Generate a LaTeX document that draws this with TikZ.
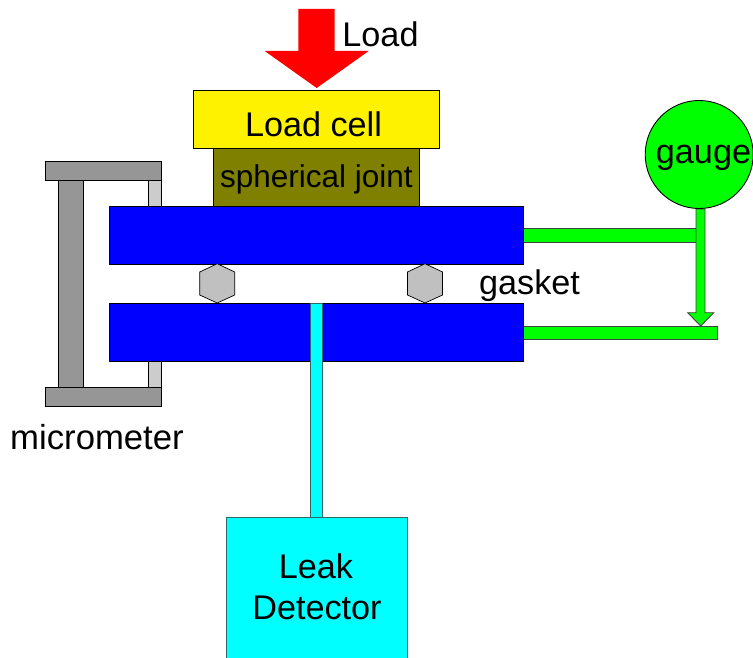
\documentclass[tikz,border=0pt]{standalone}
\usepackage{fontspec}
\setmainfont{Liberation Sans}
\definecolor{bargray}{HTML}{969696}
\definecolor{spindle}{HTML}{CCCCCC}
\definecolor{hexgray}{HTML}{C0C0C0}
\definecolor{olivejoint}{HTML}{808000}
\definecolor{edgegray}{HTML}{404040}
\definecolor{aqua}{HTML}{00FFFF}
\definecolor{edgeteal}{HTML}{306868}
\tikzset{
  part/.style={draw=black,line width=0.9pt,line join=miter},
  pipe/.style={draw=edgegray,line width=0.9pt,fill=green},
  lbl/.style={inner sep=0pt,outer sep=0pt,anchor=base,font=\fontsize{34.2}{40}\selectfont},
  lblsmall/.style={lbl,font=\fontsize{31.5}{38}\selectfont},
  lblwide/.style={lbl,font=\fontsize{34.7}{40}\selectfont}
}
\begin{document}
\begin{tikzpicture}[x=1pt,y=-1pt]
\useasboundingbox (0,0) rectangle (753,658);
% micrometer
\draw[part,fill=spindle] (148.7,180.7) rectangle (161.7,206.3);
\draw[part,fill=spindle] (148.7,361.7) rectangle (161.7,387);
\draw[part,fill=bargray] (58,180.7) rectangle (83.7,387);
\draw[part,fill=bargray] (45,161) rectangle (161.7,180.7);
\draw[part,fill=bargray] (45,387) rectangle (161.7,406.7);
% green pipes
\draw[pipe] (523.5,228.7) rectangle (696,242);
\draw[pipe] (523.5,326) rectangle (717,339);
\draw[pipe] (696,209) -- (696,312.7) -- (687.7,312.7) -- (700.7,326) -- (713.7,312.7) -- (705,312.7) -- (705,209) -- cycle;
% plates
\draw[part,fill=blue] (109.3,206.3) rectangle (523.5,264.3);
\draw[part,fill=blue] (109.3,303.3) rectangle (523.5,361.7);
% gasket hexagons
\draw[part,fill=hexgray,line width=0.7pt] (217.2,263.7) -- (234.7,272) -- (234.7,295) -- (217.2,303) -- (199.7,295) -- (199.7,272) -- cycle;
\draw[part,fill=hexgray,line width=0.7pt] (425,263.7) -- (442.5,272) -- (442.5,295) -- (425,303) -- (407.5,295) -- (407.5,272) -- cycle;
% stem to detector
\draw[draw=edgeteal,line width=0.9pt,fill=aqua] (310,303.8) rectangle (322.7,517);
% load stack
\draw[part,fill=olivejoint] (213.3,148.5) rectangle (419.7,206.3);
\draw[part,fill=yellow] (193.3,90) rectangle (439.3,148.5);
\fill[red] (298.3,9) -- (334.7,9) -- (334.7,51) -- (368.7,51) -- (316.7,88) -- (264.7,51) -- (298.3,51) -- cycle;
% detector and gauge
\draw[draw=edgeteal,line width=0.9pt,fill=aqua] (226,517) rectangle (407,659);
\draw[part,fill=green] (699.2,154.5) circle (54);
% labels
\node[lbl] (load) at (380.5,46.7) {Load};
\node[lbl] (loadcell) at (313.5,136.5) {Load cell};
\node[lblsmall] (joint) at (316.5,187.2) {spherical joint};
\node[lbl] (gauge) at (703.5,163.5) {gauge};
\node[lbl] (gasket) at (529.5,294.7) {gasket};
\node[lblwide] (micrometer) at (97,449.7) {micrometer};
\node[lbl] (leak) at (316,578.5) {Leak};
\node[lbl] (detector) at (317,619.5) {Detector};
\end{tikzpicture}
\end{document}
